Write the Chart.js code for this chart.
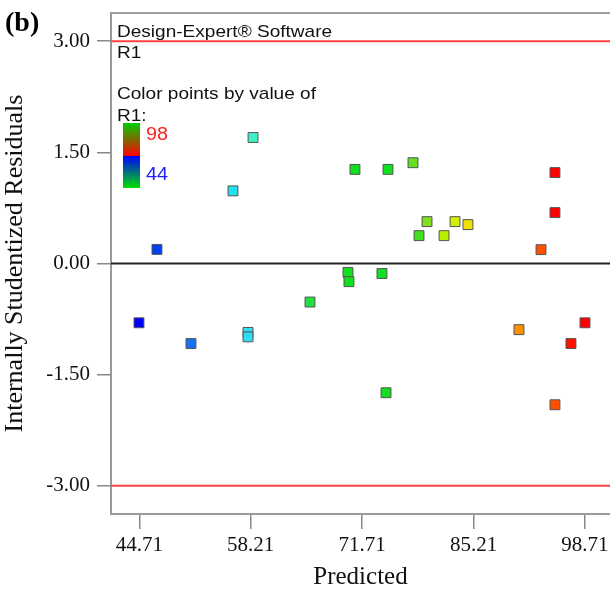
<!DOCTYPE html>
<html>
<head>
<meta charset="utf-8">
<script src="https://cdn.jsdelivr.net/npm/chart.js@4.4.1/dist/chart.umd.min.js"></script>
<style>
  html, body { margin: 0; padding: 0; background: #fff; }
  #wrap { width: 610px; height: 592px; }
</style>
</head>
<body>
<div id="wrap"><canvas id="resid" width="610" height="592"></canvas></div>
<script>
// Predicted vs internally studentized residuals
const predicted = [44.67, 46.85, 50.97, 56.06, 58.49, 57.88, 57.88, 65.39, 69.99, 70.11,
  70.84, 74.11, 74.60, 74.84, 77.87, 79.57, 78.60, 82.96, 81.63, 84.53,
  95.07, 95.07, 93.38, 90.71, 98.71, 97.01, 95.07];
const residuals = [-0.80, 0.19, -1.08, 0.98, 1.70, -0.93, -0.99, -0.52, -0.12, -0.245,
  1.27, -0.135, -1.744, 1.27, 1.36, 0.565, 0.376, 0.565, 0.376, 0.525,
  1.227, 0.687, 0.187, -0.893, -0.80, -1.08, -1.906];
const xTicks = [44.71, 58.21, 71.71, 85.21, 98.71];
const yTicks = [-3, -1.5, 0, 1.5, 3];
const limits = [3, -3];
const colorRange = [98, 44];

// colour of each point (by R1 value), same order as the data
const pointColors = ['#0000ff', '#0040f0', '#1870f0', '#20e0f0', '#40f0c8', '#30dcf0', '#30dcf0',
  '#20e040', '#10e020', '#10e020', '#10e020', '#10e020', '#10e020', '#10e020', '#60e020',
  '#80e020', '#40e020', '#d0f000', '#b8f000', '#f0e000', '#ff0000', '#ff0000', '#ff5000',
  '#ff9000', '#ff0000', '#ff1000', '#ff5000'];

const xMin = 41.28, xMax = 101.74;
const yMin = -3.38, yMax = 3.38;
const serif = '"Liberation Serif", "Times New Roman", serif';
const sans = '"Liberation Sans", Arial, sans-serif';

const points = predicted.map((x, i) => ({ x: x, y: residuals[i] }));
const hline = y => [{ x: xMin, y: y }, { x: xMax, y: y }];

function wideText(ctx, s, x, y, sx) {
  ctx.save();
  ctx.translate(x, y);
  ctx.scale(sx, 1);
  ctx.fillText(s, 0, 0);
  ctx.restore();
}

const panel = {
  id: 'panel',
  beforeDatasetsDraw(chart) {
    const ctx = chart.ctx;
    ctx.save();
    ctx.textBaseline = 'alphabetic';
    ctx.fillStyle = '#111';
    ctx.font = '17px ' + sans;
    wideText(ctx, 'Design-Expert® Software', 117, 37, 1.12);
    wideText(ctx, 'R1', 117, 58, 1.12);
    wideText(ctx, 'Color points by value of', 117, 99, 1.12);
    wideText(ctx, 'R1:', 117, 121, 1.12);

    // colour key
    let g = ctx.createLinearGradient(0, 123, 0, 156);
    g.addColorStop(0, '#00d000');
    g.addColorStop(1, '#ff0000');
    ctx.fillStyle = g;
    ctx.fillRect(123, 123, 17, 33);
    g = ctx.createLinearGradient(0, 156, 0, 188);
    g.addColorStop(0, '#0000ff');
    g.addColorStop(1, '#00e000');
    ctx.fillStyle = g;
    ctx.fillRect(123, 156, 17, 32);

    ctx.font = '18px ' + sans;
    ctx.fillStyle = '#ff2020';
    wideText(ctx, String(colorRange[0]), 146, 140, 1.1);
    ctx.fillStyle = '#2020ff';
    wideText(ctx, String(colorRange[1]), 146, 180, 1.1);
    ctx.restore();
  },
  afterDraw(chart) {
    const { ctx, chartArea: a } = chart;
    ctx.save();
    ctx.strokeStyle = '#a0a0a0';
    ctx.lineWidth = 2;
    ctx.beginPath();
    ctx.moveTo(a.left, a.top);
    ctx.lineTo(a.right, a.top);
    ctx.stroke();
    ctx.fillStyle = '#000';
    ctx.font = 'bold 28px ' + serif;
    ctx.fillText('(b)', 5, 31);
    ctx.restore();
  }
};

new Chart(document.getElementById('resid'), {
  type: 'scatter',
  data: {
    datasets: [
      {
        data: points,
        pointStyle: 'rect',
        pointRadius: 7,
        backgroundColor: pointColors,
        borderColor: '#555',
        borderWidth: 1
      },
      { data: hline(limits[0]), showLine: true, pointRadius: 0, borderColor: '#ff4040', borderWidth: 2 },
      { data: hline(limits[1]), showLine: true, pointRadius: 0, borderColor: '#ff4040', borderWidth: 2 },
      { data: hline(0), showLine: true, pointRadius: 0, borderColor: '#222', borderWidth: 2 }
    ]
  },
  options: {
    responsive: false,
    animation: false,
    layout: { autoPadding: false, padding: { top: 13, right: 0, left: 0, bottom: 0 } },
    plugins: { legend: { display: false }, tooltip: { enabled: false } },
    scales: {
      x: {
        type: 'linear',
        min: xMin,
        max: xMax,
        afterBuildTicks: s => { s.ticks = xTicks.map(v => ({ value: v })); },
        afterFit: s => { s.height = 78; s.paddingLeft = 0; s.paddingRight = 0; },
        ticks: {
          autoSkip: false, maxRotation: 0, padding: 4,
          callback: v => v.toFixed(2),
          font: { family: serif, size: 21 }, color: '#111'
        },
        grid: { drawOnChartArea: false, tickLength: 15, color: '#888', lineWidth: 1.5 },
        border: { color: '#999', width: 2 },
        title: { display: true, text: 'Predicted', font: { family: serif, size: 25 }, color: '#111', padding: 0 }
      },
      y: {
        min: yMin,
        max: yMax,
        afterBuildTicks: s => { s.ticks = yTicks.map(v => ({ value: v })); },
        afterFit: s => { s.width = 111; s.paddingTop = 0; s.paddingBottom = 0; },
        ticks: {
          autoSkip: false, padding: 7,
          callback: v => v.toFixed(2),
          font: { family: serif, size: 21 }, color: '#111'
        },
        grid: { drawOnChartArea: false, tickLength: 14, color: '#888', lineWidth: 1.5 },
        border: { color: '#999', width: 2 },
        title: { display: true, text: 'Internally Studentized Residuals', font: { family: serif, size: 26 }, color: '#111', padding: 0 }
      }
    }
  },
  plugins: [panel]
});
</script>
</body>
</html>
